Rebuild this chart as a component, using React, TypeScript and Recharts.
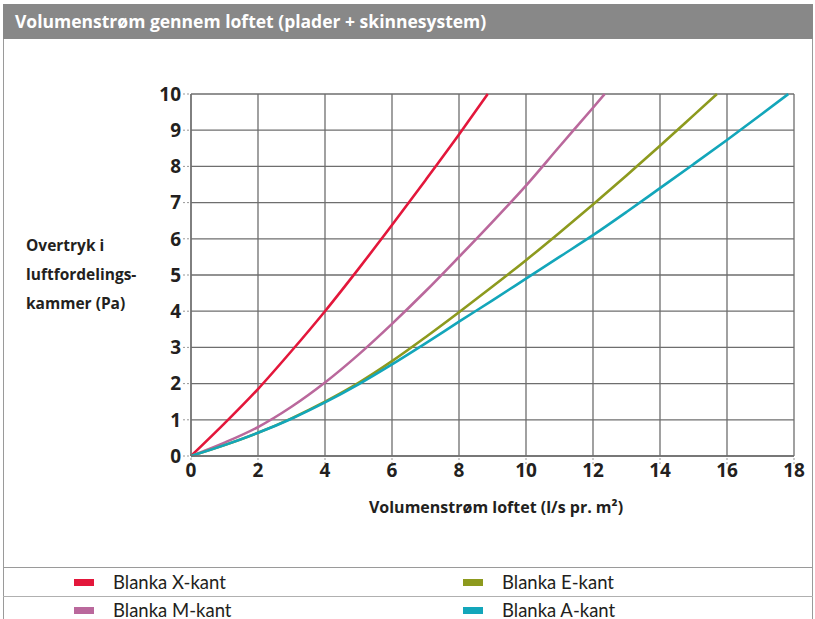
import React from "react"
import { LineChart, Line, XAxis, YAxis, CartesianGrid } from "recharts"

// Volumenstrøm (l/s pr. m²) og overtryk (Pa)
const xKantFlow = [0, 1, 2, 3, 4, 5, 6, 7, 8, 8.86]
const xKantPressure = [0, 0.9, 1.85, 2.9, 4.0, 5.17, 6.38, 7.62, 8.88, 10]

const mKantFlow = [0, 1, 2, 3, 4, 5, 6, 7, 8, 9, 10, 11, 12, 12.35]
const mKantPressure = [0, 0.37, 0.8, 1.36, 2.03, 2.8, 3.65, 4.55, 5.5, 6.47, 7.47, 8.55, 9.62, 10]

const eKantFlow = [0, 1, 2, 3, 4, 5, 6, 7, 8, 9, 10, 11, 12, 13, 14, 15, 15.7]
const eKantPressure = [0, 0.3, 0.64, 1.04, 1.5, 2.02, 2.62, 3.28, 3.97, 4.68, 5.41, 6.17, 6.95, 7.75, 8.57, 9.41, 10]

const aKantFlow = [0, 1, 2, 3, 4, 5, 6, 7, 8, 9, 10, 11, 12, 13, 14, 15, 16, 17, 17.83]
const aKantPressure = [0, 0.3, 0.64, 1.03, 1.48, 1.98, 2.53, 3.11, 3.71, 4.3, 4.9, 5.5, 6.1, 6.74, 7.4, 8.06, 8.73, 9.42, 10]

const xTicks = [0, 2, 4, 6, 8, 10, 12, 14, 16, 18]
const yTicks = [0, 1, 2, 3, 4, 5, 6, 7, 8, 9, 10]

const toPoints = (flow: number[], pressure: number[]) =>
  flow.map((x, i) => ({ x, y: pressure[i] }))

const series = [
  { name: "Blanka X-kant", color: "#e3173b", data: toPoints(xKantFlow, xKantPressure) },
  { name: "Blanka M-kant", color: "#ba689c", data: toPoints(mKantFlow, mKantPressure) },
  { name: "Blanka E-kant", color: "#8d9a1e", data: toPoints(eKantFlow, eKantPressure) },
  { name: "Blanka A-kant", color: "#13a6ba", data: toPoints(aKantFlow, aKantPressure) },
]

const FONT = "'Open Sans', Lato, sans-serif"
const LIGHT_FONT = "Lato, 'Open Sans', sans-serif"
const GRID = "#6e6e6e"
const TEXT = "#231f20"

const tickStyle = { fontSize: 19, fontWeight: 700, fill: TEXT, fontFamily: FONT }

export default function App() {
  return (
    <div
      style={{
        position: "absolute",
        left: 0,
        top: 0,
        width: 815,
        height: 619,
        background: "#fff",
        overflow: "hidden",
        fontFamily: FONT,
      }}
    >
      {/* ramme */}
      <div
        style={{
          position: "absolute",
          left: 3,
          top: 4,
          width: 808,
          height: 640,
          border: "1px solid #9a9a9a",
        }}
      />
      {/* titel */}
      <div
        style={{
          position: "absolute",
          left: 3,
          top: 4,
          width: 810,
          height: 35,
          background: "#888888",
          color: "#fff",
          fontWeight: 700,
          fontSize: 17.5,
          lineHeight: "35px",
          paddingLeft: 12,
          boxSizing: "border-box",
        }}
      >
        Volumenstrøm gennem loftet (plader + skinnesystem)
      </div>

      {/* y-akse tekst */}
      <div
        style={{
          position: "absolute",
          left: 26,
          top: 231,
          fontSize: 15.5,
          fontWeight: 700,
          lineHeight: "29px",
          color: TEXT,
        }}
      >
        Overtryk i<br />luftfordelings-<br />kammer (Pa)
      </div>

      <div style={{ position: "absolute", left: 0, top: 0 }}>
        <LineChart
          width={815}
          height={496}
          margin={{ top: 94, right: 21, left: 131, bottom: 10 }}
        >
          <CartesianGrid stroke={GRID} strokeWidth={1.3} />
          <XAxis
            type="number"
            dataKey="x"
            domain={[0, 18]}
            ticks={xTicks}
            interval={0}
            height={30}
            tick={tickStyle}
            tickSize={8}
            tickMargin={0}
            tickLine={{ stroke: "#999", strokeDasharray: "2 2" }}
            axisLine={{ stroke: GRID, strokeWidth: 1.3 }}
          />
          <YAxis
            type="number"
            dataKey="y"
            domain={[0, 10]}
            ticks={yTicks}
            interval={0}
            width={60}
            tick={tickStyle}
            tickSize={8}
            tickMargin={2}
            tickLine={{ stroke: "#999", strokeDasharray: "2 2" }}
            axisLine={{ stroke: GRID, strokeWidth: 1.3 }}
          />
          {series.map((s) => (
            <Line
              key={s.name}
              data={s.data}
              dataKey="y"
              type="monotone"
              stroke={s.color}
              strokeWidth={2.6}
              dot={false}
              isAnimationActive={false}
            />
          ))}
        </LineChart>
      </div>

      {/* x-akse tekst */}
      <div
        style={{
          position: "absolute",
          left: 191,
          width: 610,
          top: 496,
          textAlign: "center",
          fontSize: 16,
          fontWeight: 700,
          lineHeight: "22px",
          color: TEXT,
        }}
      >
        Volumenstrøm loftet (l/s pr. m²)
      </div>

      {/* signaturforklaring */}
      <div style={{ position: "absolute", left: 3, top: 567, width: 810, borderTop: "1.5px solid #9a9a9a" }} />
      <div style={{ position: "absolute", left: 3, top: 596, width: 810, borderTop: "1.5px solid #b0b0b0" }} />
      {series.map((s, i) => {
        const col = i === 0 || i === 1 ? 0 : 1
        const row = i === 0 || i === 2 ? 0 : 1
        return (
          <div
            key={s.name}
            style={{
              position: "absolute",
              left: col === 0 ? 74 : 463,
              top: 570 + row * 28,
              height: 24,
              display: "flex",
              alignItems: "center",
              fontFamily: LIGHT_FONT,
              fontSize: 18.5,
              color: TEXT,
            }}
          >
            <span style={{ display: "inline-block", width: 20, height: 7, background: s.color, marginRight: 19 }} />
            {s.name}
          </div>
        )
      })}
    </div>
  )
}
